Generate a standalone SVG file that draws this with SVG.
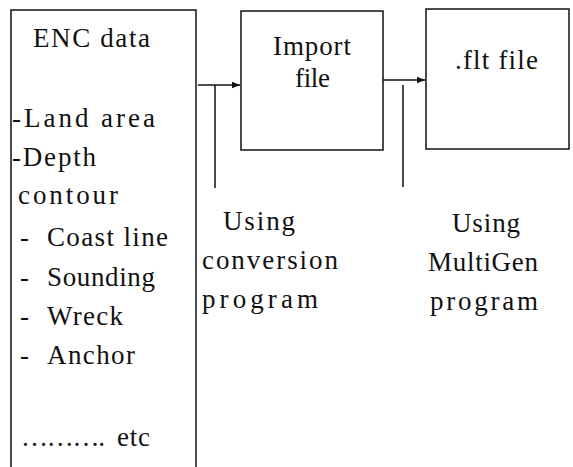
<svg xmlns="http://www.w3.org/2000/svg" width="573" height="467" viewBox="0 0 573 467">
<style>
  .bx { fill: #fff; stroke: #111; stroke-width: 1.5; }
  .ln { fill: none; stroke: #111; stroke-width: 1.5; }
  .t { font-family: "Liberation Serif", "Times New Roman", Times, serif; font-size: 27px; fill: #111; }
</style>
<defs>
  <marker id="ah" viewBox="0 0 10 10" refX="10" refY="5" markerWidth="8" markerHeight="8" orient="auto" markerUnits="userSpaceOnUse">
    <path d="M0,1 L10,5 L0,9 Z" fill="#111"/>
  </marker>
</defs>
<rect width="573" height="467" fill="#fff"/>
<g id="enc">
  <path class="bx" d="M11,480 V10 H196 V480"/>
  <text class="t" x="33" y="47" textLength="117" lengthAdjust="spacing">ENC data</text>
  <text class="t" x="12" y="127" textLength="143" lengthAdjust="spacing">-Land area</text>
  <text class="t" x="12" y="166" textLength="84" lengthAdjust="spacing">-Depth</text>
  <text class="t" x="18" y="204" textLength="100" lengthAdjust="spacing">contour</text>
  <text class="t" x="20" y="246">-</text>
  <text class="t" x="47" y="246" textLength="121" lengthAdjust="spacing">Coast line</text>
  <text class="t" x="20" y="286">-</text>
  <text class="t" x="47" y="286" textLength="108" lengthAdjust="spacing">Sounding</text>
  <text class="t" x="20" y="325">-</text>
  <text class="t" x="47" y="325" textLength="76" lengthAdjust="spacing">Wreck</text>
  <text class="t" x="20" y="364">-</text>
  <text class="t" x="47" y="364" textLength="88" lengthAdjust="spacing">Anchor</text>
  <text class="t" x="21" y="446" textLength="84" lengthAdjust="spacing">……….</text>
  <text class="t" x="117" y="446" textLength="33" lengthAdjust="spacing">etc</text>
</g>
<g id="import">
  <rect class="bx" x="241" y="11" width="142" height="139"/>
  <text class="t" x="273" y="55" textLength="78" lengthAdjust="spacing">Import</text>
  <text class="t" x="295" y="87" textLength="35" lengthAdjust="spacing">file</text>
</g>
<g id="flt">
  <rect class="bx" x="426" y="9" width="143" height="140"/>
  <text class="t" x="455" y="69" textLength="83" lengthAdjust="spacing">.flt file</text>
</g>
<g id="connectors">
  <line class="ln" x1="198" y1="85" x2="240" y2="85" marker-end="url(#ah)"/>
  <line class="ln" x1="215" y1="85" x2="215" y2="188"/>
  <line class="ln" x1="383" y1="80" x2="425" y2="80" marker-end="url(#ah)"/>
  <line class="ln" x1="403" y1="85" x2="403" y2="187"/>
</g>
<g id="label-conversion">
  <text class="t" x="223" y="230" textLength="72" lengthAdjust="spacing">Using</text>
  <text class="t" x="202" y="269" textLength="136" lengthAdjust="spacing">conversion</text>
  <text class="t" x="202" y="308" textLength="116" lengthAdjust="spacing">program</text>
</g>
<g id="label-multigen">
  <text class="t" x="452" y="232" textLength="68" lengthAdjust="spacing">Using</text>
  <text class="t" x="428" y="271" textLength="110" lengthAdjust="spacing">MultiGen</text>
  <text class="t" x="430" y="310" textLength="108" lengthAdjust="spacing">program</text>
</g>
</svg>
